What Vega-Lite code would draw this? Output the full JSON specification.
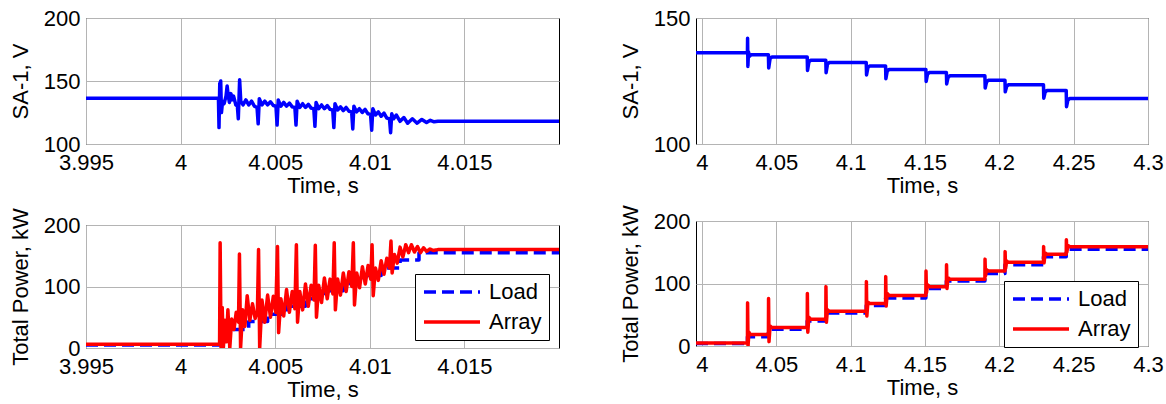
{
"$schema": "https://vega.github.io/schema/vega-lite/v6.json",
"background": "white",
"padding": {"left": 8, "top": 6, "right": 0, "bottom": 0},
"config": {
  "font": "Liberation Sans",
  "view": {"stroke": "black", "strokeWidth": 1},
  "axis": {"labelFont": "Liberation Sans", "titleFont": "Liberation Sans", "labelFontSize": 22, "titleFontSize": 22, "titleFontWeight": "normal", "labelColor": "black", "titleColor": "black", "grid": true, "gridColor": "#b4b4b4", "gridWidth": 1, "domain": false, "ticks": false, "labelFlush": false, "labelOverlap": false, "labelBound": false},
  "axisX": {"labelPadding": 8, "titlePadding": 2},
  "axisY": {"labelPadding": 6, "titlePadding": 11},
  "line": {"strokeJoin": "round", "strokeCap": "butt"}
},
"datasets": {
  "p1": [
    {"t":3.995,"v":136.4},{"t":4.00200,"v":136.4},{"t":4.00203,"v":113},{"t":4.00207,"v":148},{"t":4.00212,"v":150},{"t":4.00216,"v":125},{"t":4.00222,"v":134},{"t":4.00230,"v":132},{"t":4.00240,"v":138},{"t":4.00246,"v":146},{"t":4.00252,"v":138},{"t":4.00258,"v":133},{"t":4.00266,"v":140},{"t":4.00272,"v":135},{"t":4.00280,"v":138},{"t":4.00292,"v":131},{"t":4.00300,"v":130},{"t":4.00305,"v":120},{"t":4.00312,"v":151},{"t":4.00318,"v":134},{"t":4.00330,"v":131},{"t":4.00345,"v":135},{"t":4.00360,"v":131},{"t":4.00375,"v":134},{"t":4.00390,"v":130},{"t":4.00404,"v":129},
    {"t":4.00410,"v":116},{"t":4.00416,"v":136},{"t":4.00430,"v":131},{"t":4.00445,"v":134},{"t":4.00460,"v":131},{"t":4.00475,"v":133.5},{"t":4.00490,"v":130.5},{"t":4.00504,"v":130},
    {"t":4.00510,"v":115},{"t":4.00516,"v":135},{"t":4.00530,"v":130},{"t":4.00545,"v":133},{"t":4.00560,"v":130},{"t":4.00575,"v":132.5},{"t":4.00590,"v":129.5},{"t":4.00604,"v":129},
    {"t":4.00610,"v":115},{"t":4.00616,"v":134},{"t":4.00630,"v":129},{"t":4.00645,"v":132},{"t":4.00660,"v":129},{"t":4.00675,"v":131.5},{"t":4.00690,"v":128.5},{"t":4.00704,"v":128},
    {"t":4.00710,"v":114},{"t":4.00716,"v":133},{"t":4.00730,"v":128},{"t":4.00745,"v":131},{"t":4.00760,"v":128},{"t":4.00775,"v":130.5},{"t":4.00790,"v":127.5},{"t":4.00804,"v":127},
    {"t":4.00810,"v":113},{"t":4.00816,"v":132},{"t":4.00830,"v":127},{"t":4.00845,"v":129.5},{"t":4.00860,"v":126.5},{"t":4.00875,"v":129},{"t":4.00890,"v":126},{"t":4.00904,"v":125.5},
    {"t":4.00910,"v":112},{"t":4.00916,"v":130},{"t":4.00930,"v":125.5},{"t":4.00945,"v":128},{"t":4.00960,"v":125},{"t":4.00975,"v":127.5},{"t":4.00990,"v":124},{"t":4.01004,"v":123.5},
    {"t":4.01010,"v":111},{"t":4.01016,"v":128},{"t":4.01030,"v":123},{"t":4.01045,"v":125.5},{"t":4.01060,"v":122},{"t":4.01075,"v":124.5},{"t":4.01090,"v":120.5},{"t":4.01104,"v":120},
    {"t":4.01110,"v":109},{"t":4.01116,"v":124},{"t":4.01126,"v":120},{"t":4.01140,"v":123},{"t":4.01160,"v":118},{"t":4.01180,"v":121},{"t":4.01200,"v":116.5},{"t":4.01225,"v":120},{"t":4.01250,"v":116.5},{"t":4.01275,"v":119.5},{"t":4.01300,"v":117},{"t":4.01320,"v":118.8},{"t":4.01340,"v":117.6},{"t":4.01360,"v":118},{"t":4.02,"v":118}
  ],
  "p2": [
    {"t":3.996,"v":136.2},{"t":4.0306,"v":136.2},{"t":4.0307,"v":142},{"t":4.0309,"v":130.8},{"t":4.0313,"v":136.5},{"t":4.0320,"v":134.8},{"t":4.0330,"v":135.4},
    {"t":4.0447,"v":135.4},{"t":4.0449,"v":130.2},{"t":4.0458,"v":133.8},{"t":4.0470,"v":134.5},
    {"t":4.0708,"v":134.5},{"t":4.0710,"v":129.2},{"t":4.0719,"v":132.5},{"t":4.0731,"v":133.2},
    {"t":4.0833,"v":133.2},{"t":4.0835,"v":128.3},{"t":4.0844,"v":131.6},{"t":4.0856,"v":132.3},
    {"t":4.1105,"v":132.3},{"t":4.1107,"v":127.4},{"t":4.1116,"v":130.3},{"t":4.1128,"v":131.0},
    {"t":4.1235,"v":131.0},{"t":4.1237,"v":125.9},{"t":4.1246,"v":128.9},{"t":4.1258,"v":129.6},
    {"t":4.1506,"v":129.6},{"t":4.1508,"v":124.8},{"t":4.1517,"v":127.7},{"t":4.1529,"v":128.4},
    {"t":4.1644,"v":128.4},{"t":4.1646,"v":123.8},{"t":4.1655,"v":126.4},{"t":4.1667,"v":127.1},
    {"t":4.1903,"v":127.1},{"t":4.1905,"v":122.2},{"t":4.1914,"v":124.6},{"t":4.1926,"v":125.3},
    {"t":4.2038,"v":125.3},{"t":4.2040,"v":120.7},{"t":4.2049,"v":122.8},{"t":4.2061,"v":123.5},
    {"t":4.2297,"v":123.5},{"t":4.2299,"v":118.2},{"t":4.2308,"v":120.5},{"t":4.2320,"v":121.2},
    {"t":4.2450,"v":121.2},{"t":4.2452,"v":114.8},{"t":4.2461,"v":117.4},{"t":4.2473,"v":118.1},{"t":4.3,"v":118.1}
  ],
  "p3load": [
    {"t":3.995,"p":5,"s":"Load"},{"t":4.0021,"p":18,"s":"Load"},{"t":4.0026,"p":30,"s":"Load"},{"t":4.0036,"p":43,"s":"Load"},{"t":4.0046,"p":55,"s":"Load"},{"t":4.0056,"p":68,"s":"Load"},{"t":4.0066,"p":80,"s":"Load"},{"t":4.0076,"p":93,"s":"Load"},{"t":4.0086,"p":105,"s":"Load"},{"t":4.0096,"p":118,"s":"Load"},{"t":4.0106,"p":130,"s":"Load"},{"t":4.0116,"p":143,"s":"Load"},{"t":4.0126,"p":155,"s":"Load"},{"t":4.02,"p":155,"s":"Load"}
  ],
  "p3array": [
    {"t":3.995,"p":6,"s":"Array"},{"t":4.00206,"p":6,"s":"Array"},{"t":4.00209,"p":171,"s":"Array"},{"t":4.00214,"p":0,"s":"Array"},{"t":4.00220,"p":66,"s":"Array"},{"t":4.00226,"p":0,"s":"Array"},{"t":4.00234,"p":45,"s":"Array"},{"t":4.00242,"p":10,"s":"Array"},{"t":4.00250,"p":62,"s":"Array"},{"t":4.00260,"p":0,"s":"Array"},{"t":4.00270,"p":47,"s":"Array"},{"t":4.00282,"p":30,"s":"Array"},{"t":4.00294,"p":58,"s":"Array"},{"t":4.00306,"p":42,"s":"Array"},
    {"t":4.00311,"p":153,"s":"Array"},{"t":4.00317,"p":0,"s":"Array"},{"t":4.00328,"p":62,"s":"Array"},{"t":4.00340,"p":35,"s":"Array"},{"t":4.00352,"p":85,"s":"Array"},{"t":4.00366,"p":45,"s":"Array"},{"t":4.00380,"p":72,"s":"Array"},{"t":4.00394,"p":48,"s":"Array"},{"t":4.00406,"p":60,"s":"Array"},
    {"t":4.00412,"p":160,"s":"Array"},{"t":4.00418,"p":0,"s":"Array"},{"t":4.00430,"p":78,"s":"Array"},{"t":4.00445,"p":42,"s":"Array"},{"t":4.00460,"p":86,"s":"Array"},{"t":4.00475,"p":50,"s":"Array"},{"t":4.00490,"p":84,"s":"Array"},{"t":4.00503,"p":58,"s":"Array"},
    {"t":4.00512,"p":165,"s":"Array"},{"t":4.00518,"p":25,"s":"Array"},{"t":4.00530,"p":80,"s":"Array"},{"t":4.00545,"p":52,"s":"Array"},{"t":4.00560,"p":95,"s":"Array"},{"t":4.00575,"p":58,"s":"Array"},{"t":4.00590,"p":92,"s":"Array"},{"t":4.00604,"p":64,"s":"Array"},
    {"t":4.00612,"p":168,"s":"Array"},{"t":4.00618,"p":42,"s":"Array"},{"t":4.00630,"p":92,"s":"Array"},{"t":4.00645,"p":62,"s":"Array"},{"t":4.00660,"p":104,"s":"Array"},{"t":4.00675,"p":68,"s":"Array"},{"t":4.00690,"p":102,"s":"Array"},{"t":4.00705,"p":78,"s":"Array"},
    {"t":4.00712,"p":167,"s":"Array"},{"t":4.00718,"p":50,"s":"Array"},{"t":4.00730,"p":102,"s":"Array"},{"t":4.00745,"p":74,"s":"Array"},{"t":4.00760,"p":114,"s":"Array"},{"t":4.00775,"p":80,"s":"Array"},{"t":4.00790,"p":112,"s":"Array"},{"t":4.00805,"p":88,"s":"Array"},
    {"t":4.00812,"p":171,"s":"Array"},{"t":4.00818,"p":62,"s":"Array"},{"t":4.00830,"p":112,"s":"Array"},{"t":4.00845,"p":86,"s":"Array"},{"t":4.00860,"p":122,"s":"Array"},{"t":4.00875,"p":92,"s":"Array"},{"t":4.00890,"p":124,"s":"Array"},{"t":4.00905,"p":100,"s":"Array"},
    {"t":4.00913,"p":171,"s":"Array"},{"t":4.00919,"p":70,"s":"Array"},{"t":4.00931,"p":122,"s":"Array"},{"t":4.00946,"p":98,"s":"Array"},{"t":4.00961,"p":132,"s":"Array"},{"t":4.00976,"p":104,"s":"Array"},{"t":4.00991,"p":134,"s":"Array"},{"t":4.01005,"p":112,"s":"Array"},
    {"t":4.01012,"p":168,"s":"Array"},{"t":4.01018,"p":85,"s":"Array"},{"t":4.01030,"p":130,"s":"Array"},{"t":4.01045,"p":110,"s":"Array"},{"t":4.01060,"p":142,"s":"Array"},{"t":4.01075,"p":120,"s":"Array"},{"t":4.01090,"p":146,"s":"Array"},{"t":4.01104,"p":130,"s":"Array"},
    {"t":4.01112,"p":174,"s":"Array"},{"t":4.01118,"p":122,"s":"Array"},{"t":4.01130,"p":152,"s":"Array"},{"t":4.01145,"p":138,"s":"Array"},{"t":4.01160,"p":164,"s":"Array"},{"t":4.01175,"p":148,"s":"Array"},{"t":4.01190,"p":168,"s":"Array"},{"t":4.01205,"p":155,"s":"Array"},{"t":4.01220,"p":168,"s":"Array"},{"t":4.01236,"p":156,"s":"Array"},{"t":4.01252,"p":165,"s":"Array"},{"t":4.01268,"p":155,"s":"Array"},{"t":4.01284,"p":163,"s":"Array"},{"t":4.01300,"p":157,"s":"Array"},{"t":4.01318,"p":161,"s":"Array"},{"t":4.01336,"p":158.5,"s":"Array"},{"t":4.01360,"p":160,"s":"Array"},{"t":4.02,"p":160,"s":"Array"}
  ],
  "p4load": [
    {"t":3.996,"p":4,"s":"Load"},{"t":4.0306,"p":15,"s":"Load"},{"t":4.0447,"p":27,"s":"Load"},{"t":4.0708,"p":40,"s":"Load"},{"t":4.0833,"p":53,"s":"Load"},{"t":4.1105,"p":65,"s":"Load"},{"t":4.1235,"p":77,"s":"Load"},{"t":4.1506,"p":92,"s":"Load"},{"t":4.1644,"p":104,"s":"Load"},{"t":4.1903,"p":116,"s":"Load"},{"t":4.2038,"p":130,"s":"Load"},{"t":4.2297,"p":143,"s":"Load"},{"t":4.2450,"p":155,"s":"Load"},{"t":4.3,"p":155,"s":"Load"}
  ],
  "p4array": [
    {"t":3.996,"p":5,"s":"Array"},{"t":4.0306,"p":5,"s":"Array"},{"t":4.0307,"p":69,"s":"Array"},{"t":4.0310,"p":0,"s":"Array"},{"t":4.0316,"p":22,"s":"Array"},{"t":4.0325,"p":18.5,"s":"Array"},
    {"t":4.0447,"p":18.5,"s":"Array"},{"t":4.0448,"p":76,"s":"Array"},{"t":4.0451,"p":7,"s":"Array"},{"t":4.0458,"p":32,"s":"Array"},{"t":4.0470,"p":29.5,"s":"Array"},
    {"t":4.0708,"p":29.5,"s":"Array"},{"t":4.0709,"p":84,"s":"Array"},{"t":4.0712,"p":22,"s":"Array"},{"t":4.0719,"p":46,"s":"Array"},{"t":4.0731,"p":43,"s":"Array"},
    {"t":4.0833,"p":43,"s":"Array"},{"t":4.0834,"p":95,"s":"Array"},{"t":4.0837,"p":38,"s":"Array"},{"t":4.0844,"p":58,"s":"Array"},{"t":4.0856,"p":55.5,"s":"Array"},
    {"t":4.1105,"p":55.5,"s":"Array"},{"t":4.1106,"p":103,"s":"Array"},{"t":4.1109,"p":48,"s":"Array"},{"t":4.1116,"p":70,"s":"Array"},{"t":4.1128,"p":68,"s":"Array"},
    {"t":4.1235,"p":68,"s":"Array"},{"t":4.1236,"p":111,"s":"Array"},{"t":4.1239,"p":64,"s":"Array"},{"t":4.1246,"p":84,"s":"Array"},{"t":4.1258,"p":81,"s":"Array"},
    {"t":4.1506,"p":81,"s":"Array"},{"t":4.1507,"p":120,"s":"Array"},{"t":4.1510,"p":85,"s":"Array"},{"t":4.1517,"p":98,"s":"Array"},{"t":4.1529,"p":95,"s":"Array"},
    {"t":4.1644,"p":95,"s":"Array"},{"t":4.1645,"p":130,"s":"Array"},{"t":4.1648,"p":92,"s":"Array"},{"t":4.1655,"p":109,"s":"Array"},{"t":4.1667,"p":107,"s":"Array"},
    {"t":4.1903,"p":107,"s":"Array"},{"t":4.1904,"p":139,"s":"Array"},{"t":4.1907,"p":112,"s":"Array"},{"t":4.1914,"p":122,"s":"Array"},{"t":4.1926,"p":120,"s":"Array"},
    {"t":4.2038,"p":120,"s":"Array"},{"t":4.2039,"p":151,"s":"Array"},{"t":4.2042,"p":124,"s":"Array"},{"t":4.2049,"p":136,"s":"Array"},{"t":4.2061,"p":134,"s":"Array"},
    {"t":4.2297,"p":134,"s":"Array"},{"t":4.2298,"p":159,"s":"Array"},{"t":4.2301,"p":133,"s":"Array"},{"t":4.2308,"p":149,"s":"Array"},{"t":4.2320,"p":147,"s":"Array"},
    {"t":4.2450,"p":147,"s":"Array"},{"t":4.2451,"p":170,"s":"Array"},{"t":4.2454,"p":150,"s":"Array"},{"t":4.2461,"p":161,"s":"Array"},{"t":4.2473,"p":159,"s":"Array"},{"t":4.3,"p":159,"s":"Array"}
  ]
},
"resolve": {"scale": {"x": "independent", "y": "independent", "color": "independent", "strokeDash": "independent"}, "legend": {"color": "independent", "strokeDash": "independent"}},
"spacing": 58,
"hconcat": [
  {
    "spacing": 10,
    "resolve": {"scale": {"x": "independent", "y": "independent", "color": "independent", "strokeDash": "independent"}, "legend": {"color": "independent", "strokeDash": "independent"}},
    "vconcat": [
      {
        "width": 473, "height": 126,
        "data": {"name": "p1"},
        "mark": {"type": "line", "color": "#0000ff", "strokeWidth": 3.5, "clip": true},
        "encoding": {
          "x": {"field": "t", "type": "quantitative", "scale": {"domain": [3.995, 4.02], "nice": false, "zero": false}, "axis": {"values": [3.995, 4, 4.005, 4.01, 4.015], "format": ".4~f", "title": "Time, s"}},
          "y": {"field": "v", "type": "quantitative", "scale": {"domain": [100, 200], "nice": false, "zero": false}, "axis": {"values": [100, 150, 200], "title": "SA-1, V"}}
        }
      },
      {
        "width": 473, "height": 123,
        "encoding": {
          "x": {"field": "t", "type": "quantitative", "scale": {"domain": [3.995, 4.02], "nice": false, "zero": false}, "axis": {"values": [3.995, 4, 4.005, 4.01, 4.015], "format": ".4~f", "title": "Time, s"}},
          "y": {"field": "p", "type": "quantitative", "scale": {"domain": [0, 200], "nice": false, "zero": false}, "axis": {"values": [0, 100, 200], "title": "Total Power, kW"}},
          "color": {"field": "s", "type": "nominal", "scale": {"domain": ["Load", "Array"], "range": ["#0000ff", "#ff0000"]}, "legend": {"orient": "none", "legendX": 329, "legendY": 49, "title": null, "symbolType": "stroke", "symbolSize": 3136, "symbolStrokeWidth": 3.5, "clipHeight": 22, "labelFontSize": 22, "labelFont": "Liberation Sans", "labelColor": "black", "padding": 7, "rowPadding": 8, "labelOffset": 7, "strokeColor": "black", "fillColor": "white"}},
          "strokeDash": {"field": "s", "type": "nominal", "scale": {"domain": ["Load", "Array"], "range": [[12, 6], [1, 0]]}, "legend": {"orient": "none", "legendX": 329, "legendY": 49, "title": null, "symbolType": "stroke", "symbolSize": 3136, "symbolStrokeWidth": 3.5, "clipHeight": 22, "labelFontSize": 22, "labelFont": "Liberation Sans", "labelColor": "black", "padding": 7, "rowPadding": 8, "labelOffset": 7, "strokeColor": "black", "fillColor": "white"}}
        },
        "layer": [
          {"data": {"name": "p3load"}, "mark": {"type": "line", "strokeWidth": 3.5, "interpolate": "step-after", "clip": true}},
          {"data": {"name": "p3array"}, "mark": {"type": "line", "strokeWidth": 3.5, "clip": true}}
        ]
      }
    ]
  },
  {
    "spacing": 7,
    "resolve": {"scale": {"x": "independent", "y": "independent", "color": "independent", "strokeDash": "independent"}, "legend": {"color": "independent", "strokeDash": "independent"}},
    "vconcat": [
      {
        "width": 452, "height": 126,
        "data": {"name": "p2"},
        "mark": {"type": "line", "color": "#0000ff", "strokeWidth": 3.5, "clip": true},
        "encoding": {
          "x": {"field": "t", "type": "quantitative", "scale": {"domain": [3.996, 4.3], "nice": false, "zero": false}, "axis": {"values": [4, 4.05, 4.1, 4.15, 4.2, 4.25, 4.3], "format": ".2~f", "title": "Time, s"}},
          "y": {"field": "v", "type": "quantitative", "scale": {"domain": [100, 150], "nice": false, "zero": false}, "axis": {"values": [100, 150], "title": "SA-1, V"}}
        }
      },
      {
        "width": 452, "height": 125,
        "encoding": {
          "x": {"field": "t", "type": "quantitative", "scale": {"domain": [3.996, 4.3], "nice": false, "zero": false}, "axis": {"values": [4, 4.05, 4.1, 4.15, 4.2, 4.25, 4.3], "format": ".2~f", "title": "Time, s"}},
          "y": {"field": "p", "type": "quantitative", "scale": {"domain": [0, 200], "nice": false, "zero": false}, "axis": {"values": [0, 100, 200], "title": "Total Power, kW"}},
          "color": {"field": "s", "type": "nominal", "scale": {"domain": ["Load", "Array"], "range": ["#0000ff", "#ff0000"]}, "legend": {"orient": "none", "legendX": 308, "legendY": 60, "title": null, "symbolType": "stroke", "symbolSize": 3136, "symbolStrokeWidth": 3.5, "clipHeight": 22, "labelFontSize": 22, "labelFont": "Liberation Sans", "labelColor": "black", "padding": 7, "rowPadding": 8, "labelOffset": 7, "strokeColor": "black", "fillColor": "white"}},
          "strokeDash": {"field": "s", "type": "nominal", "scale": {"domain": ["Load", "Array"], "range": [[12, 6], [1, 0]]}, "legend": {"orient": "none", "legendX": 308, "legendY": 60, "title": null, "symbolType": "stroke", "symbolSize": 3136, "symbolStrokeWidth": 3.5, "clipHeight": 22, "labelFontSize": 22, "labelFont": "Liberation Sans", "labelColor": "black", "padding": 7, "rowPadding": 8, "labelOffset": 7, "strokeColor": "black", "fillColor": "white"}}
        },
        "layer": [
          {"data": {"name": "p4load"}, "mark": {"type": "line", "strokeWidth": 3.5, "interpolate": "step-after", "clip": true}},
          {"data": {"name": "p4array"}, "mark": {"type": "line", "strokeWidth": 3.5, "clip": true}}
        ]
      }
    ]
  }
]
}
